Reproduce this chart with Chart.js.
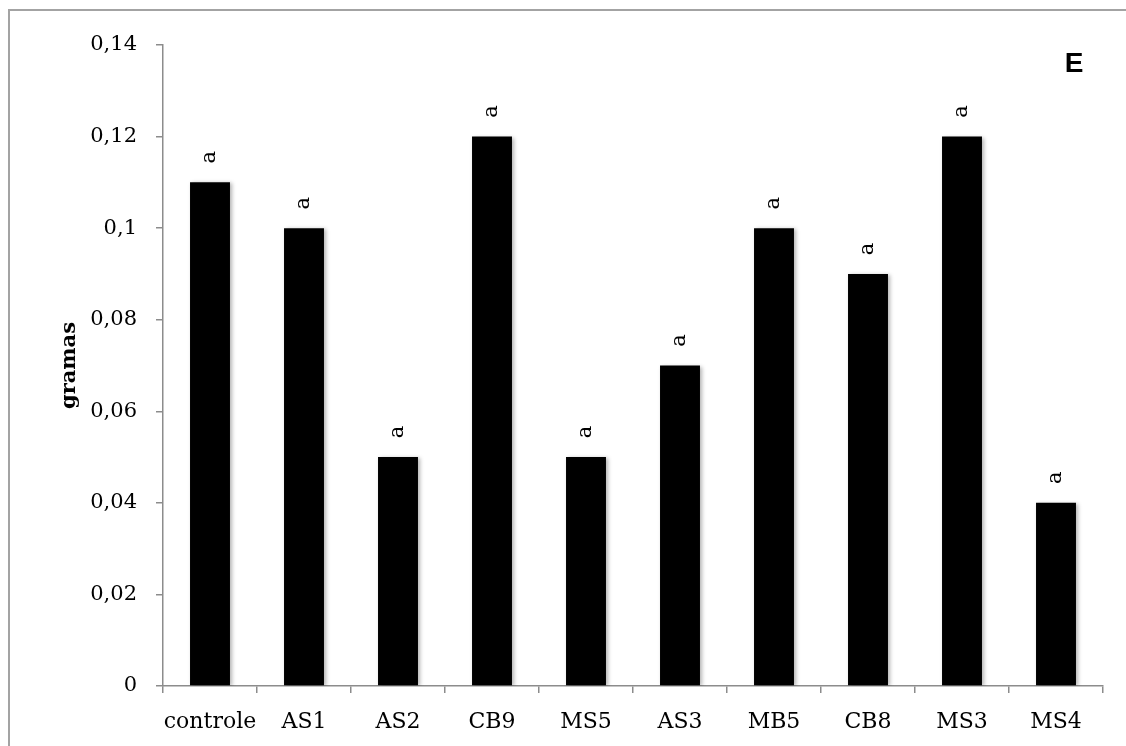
<!DOCTYPE html>
<html>
<head>
<meta charset="utf-8">
<script src="https://cdn.jsdelivr.net/npm/chart.js@4.4.1/dist/chart.umd.min.js"></script>
<style>
  html, body { margin: 0; padding: 0; background: #fff; overflow: hidden; }
  #wrap { position: relative; width: 1126px; height: 746px; }
</style>
</head>
<body>
<div id="wrap"><canvas id="c" width="1126" height="746"></canvas></div>
<script>
// Fresh biomass (g) per treatment
const categories = ['controle', 'AS1', 'AS2', 'CB9', 'MS5', 'AS3', 'MB5', 'CB8', 'MS3', 'MS4'];
const gramas = [0.11, 0.10, 0.05, 0.12, 0.05, 0.07, 0.10, 0.09, 0.12, 0.04];
const letters = ['a', 'a', 'a', 'a', 'a', 'a', 'a', 'a', 'a', 'a'];
const panelLetter = 'E';
const yMin = 0, yMax = 0.14, yStep = 0.02;

const AXIS_GRAY = '#8c8c8c';

// Frame around the figure and the panel letter
const framePlugin = {
  id: 'frame',
  beforeDraw(chart) {
    const ctx = chart.ctx;
    ctx.save();
    ctx.strokeStyle = '#a3a3a3';
    ctx.lineWidth = 2;
    ctx.strokeRect(9, 10, 1400, 1000);
    ctx.restore();
  },
  afterDraw(chart) {
    const ctx = chart.ctx;
    ctx.save();
    ctx.font = 'bold 28px "Liberation Sans", Arial, sans-serif';
    ctx.fillStyle = '#000';
    ctx.textAlign = 'center';
    ctx.textBaseline = 'middle';
    ctx.fillText(panelLetter, 1074, 64);
    ctx.restore();
  }
};

// Soft shadow under the bars
const shadowPlugin = {
  id: 'barShadow',
  beforeDatasetsDraw(chart) {
    const ctx = chart.ctx;
    ctx.save();
    ctx.shadowColor = 'rgba(0,0,0,0.30)';
    ctx.shadowBlur = 4;
    ctx.shadowOffsetX = 2;
    ctx.shadowOffsetY = 1;
  },
  afterDatasetsDraw(chart) {
    chart.ctx.restore();
  }
};

// Significance letters above each bar, rotated
const letterPlugin = {
  id: 'sigLetters',
  afterDatasetsDraw(chart) {
    const ctx = chart.ctx;
    const meta = chart.getDatasetMeta(0);
    ctx.save();
    ctx.font = '21px "DejaVu Serif", serif';
    ctx.fillStyle = '#000';
    ctx.textAlign = 'center';
    ctx.textBaseline = 'middle';
    meta.data.forEach((bar, i) => {
      ctx.save();
      ctx.translate(bar.x, bar.y - 25);
      ctx.rotate(-Math.PI / 2);
      ctx.fillText(letters[i], 0, 0);
      ctx.restore();
    });
    ctx.restore();
  }
};

new Chart(document.getElementById('c'), {
  type: 'bar',
  data: {
    labels: categories,
    datasets: [{
      data: gramas,
      backgroundColor: '#000',
      borderWidth: 0,
      categoryPercentage: 1.0,
      barPercentage: 0.425
    }]
  },
  options: {
    responsive: false,
    animation: false,
    devicePixelRatio: 1,
    layout: { padding: { left: 0, right: 23, top: 45, bottom: 0 } },
    plugins: {
      legend: { display: false },
      tooltip: { enabled: false }
    },
    scales: {
      x: {
        grid: {
          offset: true,
          drawOnChartArea: false,
          drawTicks: true,
          tickLength: 7,
          color: AXIS_GRAY,
          lineWidth: 1.5
        },
        border: { display: true, color: AXIS_GRAY, width: 1.5 },
        ticks: {
          color: '#000',
          font: { family: '"DejaVu Serif", serif', size: 22 },
          padding: 16,
          maxRotation: 0,
          autoSkip: false
        },
        afterFit(scale) { scale.height = 60; }
      },
      y: {
        min: yMin,
        max: yMax,
        grid: {
          drawOnChartArea: false,
          drawTicks: true,
          tickLength: 7,
          color: AXIS_GRAY,
          lineWidth: 1.5
        },
        border: { display: true, color: AXIS_GRAY, width: 1.5 },
        ticks: {
          stepSize: yStep,
          color: '#000',
          padding: 19,
          font: { family: '"DejaVu Serif", serif', size: 21 },
          callback(v) {
            const r = Math.round(v * 100) / 100;
            return r === 0 ? '0' : String(r).replace('.', ',');
          }
        },
        title: {
          display: true,
          text: 'gramas',
          color: '#000',
          font: { family: '"DejaVu Serif", serif', size: 21, weight: 'bold' },
          padding: { top: 57, bottom: 0 }
        },
        afterFit(scale) { scale.width = 163; }
      }
    }
  },
  plugins: [framePlugin, shadowPlugin, letterPlugin]
});
</script>
</body>
</html>
